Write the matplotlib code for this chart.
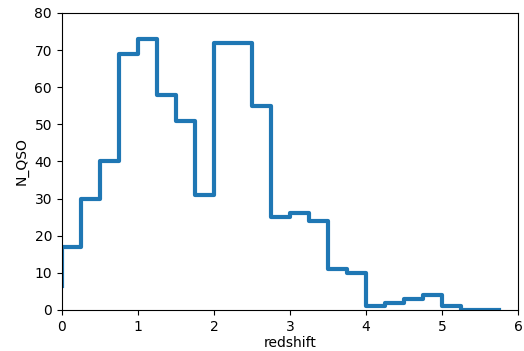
import numpy as np
import matplotlib
matplotlib.use("Agg")
import matplotlib.pyplot as plt

# Quasar counts per redshift bin (bin width 0.25)
bin_edges = np.arange(0, 5.75 + 0.001, 0.25)
counts = [17, 30, 40, 69, 73, 58, 51, 31, 72, 72, 55, 25,
          26, 24, 11, 10, 1, 2, 3, 4, 1, 0, 0]
start_level = 6.5

fig = plt.figure(figsize=(5.24, 3.51), dpi=100)
ax = fig.add_axes([0.118, 0.117, 0.871, 0.846])

ax.step(bin_edges, [start_level] + counts, where="pre",
        color="#1f77b4", linewidth=3)

ax.set_xlim(0, 6)
ax.set_ylim(0, 80)
ax.set_xlabel("redshift", labelpad=2)
ax.set_ylabel("N_QSO")

fig.savefig("out.png", dpi=100)
